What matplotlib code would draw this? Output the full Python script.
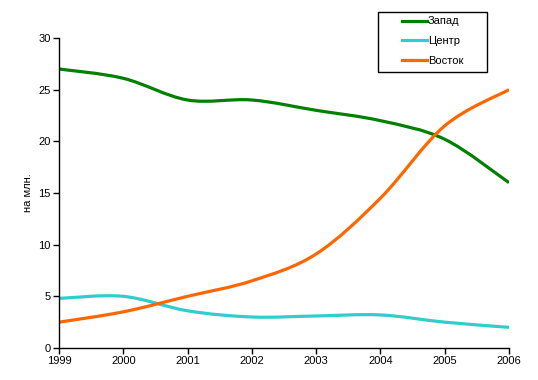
import matplotlib
matplotlib.use("Agg")
import matplotlib.pyplot as plt
from matplotlib.path import Path
from matplotlib.patches import PathPatch, Rectangle
from matplotlib.lines import Line2D

plt.rcParams["font.family"] = ["Liberation Sans", "DejaVu Sans"]
plt.rcParams["font.size"] = 8

years = [1999, 2000, 2001, 2002, 2003, 2004, 2005, 2006]
zapad = [27.0, 26.1, 24.0, 24.0, 23.0, 22.0, 20.2, 16.0]
centr = [4.8, 5.0, 3.6, 3.0, 3.1, 3.2, 2.5, 2.0]
vostok = [2.5, 3.5, 5.0, 6.5, 9.1, 14.5, 21.5, 25.0]

names = ["Запад", "Центр", "Восток"]
colors = ["#008000", "#33CCCC", "#FF6600"]
lw = 2.3


def smooth_path(xs, ys):
    # Excel-style smoothed line: cubic Bezier through every point
    pts = list(zip(xs, ys))
    verts = [pts[0]]
    codes = [Path.MOVETO]
    n = len(pts)
    for i in range(n - 1):
        p0 = pts[max(i - 1, 0)]
        p1 = pts[i]
        p2 = pts[i + 1]
        p3 = pts[min(i + 2, n - 1)]
        c1 = (p1[0] + (p2[0] - p0[0]) / 6, p1[1] + (p2[1] - p0[1]) / 6)
        c2 = (p2[0] - (p3[0] - p1[0]) / 6, p2[1] - (p3[1] - p1[1]) / 6)
        verts += [c1, c2, p2]
        codes += [Path.CURVE4] * 3
    return Path(verts, codes)


fig = plt.figure(figsize=(5.38, 3.8), dpi=100)
ax = fig.add_axes([59 / 538, 32 / 380, 450 / 538, 310 / 380])

handles = []
for ys, name, c in zip([zapad, centr, vostok], names, colors):
    patch = PathPatch(smooth_path(years, ys), facecolor="none", edgecolor=c,
                      lw=lw, capstyle="butt", joinstyle="round")
    ax.add_patch(patch)
    handles.append(Line2D([], [], color=c, lw=lw, label=name))

ax.set_xlim(1999, 2006)
ax.set_ylim(0, 30)
ax.set_xticks(years)
ax.set_yticks(range(0, 31, 5))
for side in ("top", "right"):
    ax.spines[side].set_visible(False)
for side in ("left", "bottom"):
    ax.spines[side].set_linewidth(1.0)
ax.tick_params(direction="out", length=4, width=1, pad=2, labelsize=8)
ax.set_ylabel("на млн.", fontsize=8, labelpad=4)

# legend frame drawn separately (wide side margins like the original)
fig.patches.append(Rectangle((378 / 538, 1 - 72 / 380), 109 / 538, 60 / 380,
                             transform=fig.transFigure, facecolor="white",
                             edgecolor="black", lw=1.0, zorder=3))
leg = fig.legend(handles=handles, loc="upper left",
                 bbox_to_anchor=(402 / 538, 1 - 16.5 / 380),
                 frameon=False, handlelength=2.25, handletextpad=0.1,
                 labelspacing=0.86, borderpad=0, borderaxespad=0, fontsize=8)
leg.set_zorder(4)

fig.savefig("out.png", dpi=100)
